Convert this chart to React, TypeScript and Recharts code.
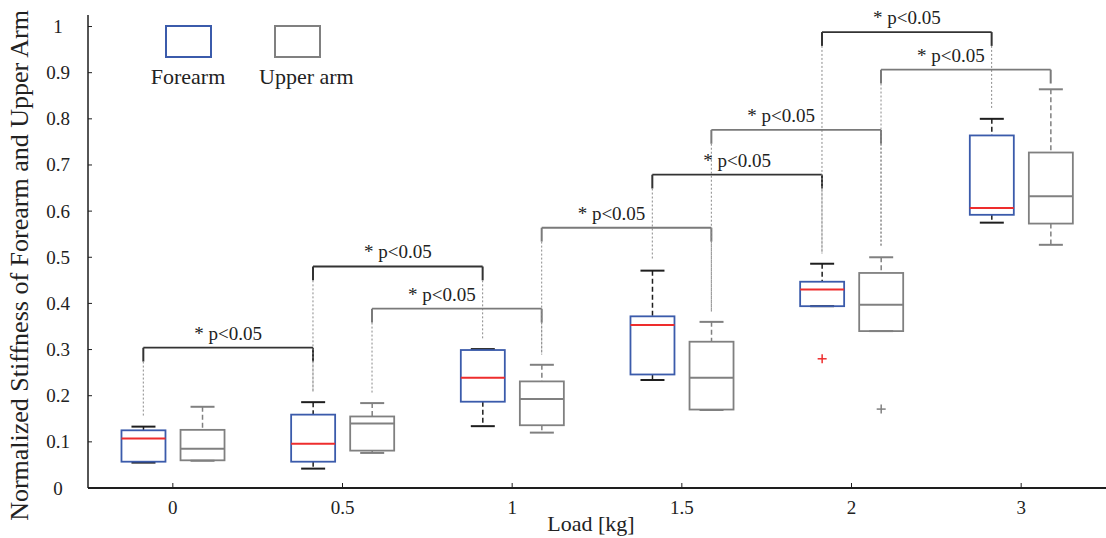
import { ComposedChart, Bar, XAxis, YAxis, ReferenceLine, ReferenceDot, Legend } from 'recharts';

// load levels (x tick labels)
const loads = ['0', '0.5', '1', '1.5', '2', '3'];

// forearm box plot stats per load
const forearmMin = [0.055, 0.042, 0.134, 0.234, 0.394, 0.575];
const forearmQ1 = [0.057, 0.057, 0.187, 0.246, 0.394, 0.592];
const forearmMedian = [0.107, 0.096, 0.239, 0.353, 0.43, 0.607];
const forearmQ3 = [0.125, 0.159, 0.299, 0.372, 0.447, 0.764];
const forearmMax = [0.133, 0.186, 0.301, 0.471, 0.486, 0.8];
const forearmOutliers = [[], [], [], [], [0.28], []];

// upper arm box plot stats per load
const upperMin = [0.059, 0.076, 0.12, 0.169, 0.34, 0.527];
const upperQ1 = [0.06, 0.081, 0.136, 0.17, 0.34, 0.573];
const upperMedian = [0.085, 0.14, 0.193, 0.239, 0.397, 0.632];
const upperQ3 = [0.126, 0.155, 0.231, 0.317, 0.466, 0.727];
const upperMax = [0.176, 0.184, 0.267, 0.36, 0.5, 0.864];
const upperOutliers = [[], [], [], [], [0.171], []];

// significance brackets between load i and i+1 (bracket height, null = none)
const forearmSig = [0.304, 0.48, null, 0.679, 0.988];
const upperSig = [null, 0.3885, 0.564, 0.776, 0.9065];
const sigText = '* p<0.05';

const yTicks = [0, 0.1, 0.2, 0.3, 0.4, 0.5, 0.6, 0.7, 0.8, 0.9, 1];

const data = loads.map((load, i) => ({
  pos: i,
  load,
  f: { min: forearmMin[i], q1: forearmQ1[i], med: forearmMedian[i], q3: forearmQ3[i], max: forearmMax[i], out: forearmOutliers[i] },
  u: { min: upperMin[i], q1: upperQ1[i], med: upperMedian[i], q3: upperQ3[i], max: upperMax[i], out: upperOutliers[i] },
}));

const FONT = '"Liberation Serif", "Times New Roman", serif';
const BLUE = '#3b5bab';
const GRAY = '#808080';
const RED = '#ee2d2d';
const DARK = '#1e1e1e';

const xDomain = [-0.5, 5.5];
const shift = 0.174;

const makeBox = (key: 'f' | 'u', boxColor: string, medColor: string, whiskColor: string) => (props: any) => {
  const { x, y, width, height, payload } = props;
  const s = payload[key];
  const py = (v: number) => y + (height * (s.max - v)) / (s.max - s.min);
  const cx = x + width / 2;
  const cap = 12;
  return (
    <g>
      <line x1={cx} x2={cx} y1={py(s.max)} y2={py(s.q3)} stroke={whiskColor} strokeWidth={1.5} strokeDasharray="5 3" />
      <line x1={cx} x2={cx} y1={py(s.q1)} y2={py(s.min)} stroke={whiskColor} strokeWidth={1.5} strokeDasharray="5 3" />
      <line x1={cx - cap} x2={cx + cap} y1={py(s.max)} y2={py(s.max)} stroke={whiskColor} strokeWidth={2} />
      <line x1={cx - cap} x2={cx + cap} y1={py(s.min)} y2={py(s.min)} stroke={whiskColor} strokeWidth={2} />
      <rect x={x} y={py(s.q3)} width={width} height={py(s.q1) - py(s.q3)} fill="none" stroke={boxColor} strokeWidth={1.8} />
      <line x1={x} x2={x + width} y1={py(s.med)} y2={py(s.med)} stroke={medColor} strokeWidth={2} />
      {s.out.map((o: number, j: number) => (
        <g key={j} stroke={key === 'f' ? RED : GRAY} strokeWidth={1.5}>
          <line x1={cx - 4.5} x2={cx + 4.5} y1={py(o)} y2={py(o)} />
          <line x1={cx} x2={cx} y1={py(o) - 4.5} y2={py(o) + 4.5} />
        </g>
      ))}
    </g>
  );
};

const XTick = (props: any) => {
  const { x, y, payload } = props;
  return (
    <g>
      <line x1={x} x2={x} y1={y} y2={y - 5} stroke={DARK} strokeWidth={1} />
      <text x={x} y={y + 26} textAnchor="middle" fontFamily={FONT} fontSize={19} fill="#222">
        {loads[payload.value]}
      </text>
    </g>
  );
};

const YTick = (props: any) => {
  const { x, y, payload } = props;
  return (
    <g>
      <line x1={x} x2={x + 4} y1={y} y2={y} stroke={DARK} strokeWidth={1} />
      <text x={x - 30} y={y} textAnchor="middle" dominantBaseline="central" fontFamily={FONT} fontSize={19} fill="#222">
        {String(payload.value)}
      </text>
    </g>
  );
};

const renderLegend = (props: any) => {
  const { payload } = props;
  return (
    <div style={{ position: 'relative', width: 240, height: 75, fontFamily: FONT }}>
      {payload.map((p: any, i: number) => (
        <div key={p.value} style={{ position: 'absolute', left: i * 109, top: 0, width: 76, textAlign: 'center' }}>
          <div style={{ margin: '3px auto 0', width: 43, height: 29, border: `2px solid ${p.color}` }} />
          <div style={{ fontSize: 22, color: '#222', marginTop: 6, whiteSpace: 'nowrap' }}>{p.value}</div>
        </div>
      ))}
    </div>
  );
};

const brackets = (axis: 'f' | 'u', sig: (number | null)[], maxes: number[], color: string, labelDx: number) => {
  const out: any[] = [];
  const leg = 0.03;
  sig.forEach((h, i) => {
    if (h === null) return;
    out.push(
      <ReferenceLine key={`${axis}h${i}`} xAxisId={axis} segment={[{ x: i, y: h }, { x: i + 1, y: h }]} stroke={color} strokeWidth={1.8} />
    );
    [i, i + 1].forEach((p) => {
      out.push(
        <ReferenceLine key={`${axis}l${i}-${p}`} xAxisId={axis} segment={[{ x: p, y: h }, { x: p, y: h - leg }]} stroke={color} strokeWidth={2} />
      );
      const bottom = maxes[p] + 0.022;
      if (h - leg > bottom) {
        out.push(
          <ReferenceLine
            key={`${axis}d${i}-${p}`}
            xAxisId={axis}
            segment={[{ x: p, y: h - leg }, { x: p, y: bottom }]}
            stroke="#8a8a8a"
            strokeWidth={1}
            strokeDasharray="2 2"
          />
        );
      }
    });
    out.push(
      <ReferenceDot
        key={`${axis}t${i}`}
        xAxisId={axis}
        x={i + 0.5}
        y={h}
        r={0}
        shape={(p: any) => (
          <text x={p.cx + labelDx} y={p.cy - 8} textAnchor="middle" fontFamily={FONT} fontSize={19} fill="#222">
            {sigText}
          </text>
        )}
      />
    );
  });
  return out;
};

export default function App() {
  return (
    <div style={{ position: 'absolute', left: 0, top: 0, width: 1106, height: 538, background: '#fff', fontFamily: FONT }}>
      <ComposedChart width={1106} height={538} data={data} margin={{ top: 15, right: 0, bottom: 0, left: 0 }}>
        <XAxis
          xAxisId="load"
          dataKey="pos"
          type="number"
          domain={xDomain}
          allowDataOverflow
          ticks={[0, 1, 2, 3, 4, 5]}
          height={50}
          tickLine={false}
          tickSize={0}
          tickMargin={0}
          tick={<XTick />}
          axisLine={{ stroke: DARK, strokeWidth: 2 }}
          label={{
            value: 'Load [kg]',
            content: (p: any) => (
              <text
                x={p.viewBox.x + p.viewBox.width / 2 - 6}
                y={p.viewBox.y + 35}
                textAnchor="middle"
                dominantBaseline="central"
                fontFamily={FONT}
                fontSize={22}
                fill="#222"
              >
                Load [kg]
              </text>
            ),
          }}
        />
        <XAxis xAxisId="f" orientation="top" dataKey="pos" type="number" hide domain={[xDomain[0] + shift, xDomain[1] + shift]} allowDataOverflow ticks={[0, 1, 2, 3, 4, 5]} />
        <XAxis xAxisId="u" orientation="top" dataKey="pos" type="number" hide domain={[xDomain[0] - shift, xDomain[1] - shift]} allowDataOverflow ticks={[0, 1, 2, 3, 4, 5]} />
        <YAxis
          type="number"
          domain={[0, 1.025]}
          allowDataOverflow
          ticks={yTicks}
          width={88}
          tickLine={false}
          tickSize={0}
          tickMargin={0}
          tick={<YTick />}
          axisLine={{ stroke: DARK, strokeWidth: 1.5 }}
          label={{
            value: 'Normalized Stiffness of Forearm and Upper Arm',
            content: (p: any) => {
              const cy = p.viewBox.y + p.viewBox.height / 2 + 14;
              return (
                <text
                  x={19}
                  y={cy}
                  transform={`rotate(-90, 19, ${cy})`}
                  textAnchor="middle"
                  dominantBaseline="central"
                  fontFamily={FONT}
                  fontSize={26}
                  fill="#222"
                >
                  Normalized Stiffness of Forearm and Upper Arm
                </text>
              );
            },
          }}
        />
        <Legend
          layout="horizontal"
          verticalAlign="middle"
          align="center"
          content={renderLegend}
          wrapperStyle={{ left: 150, top: 22, width: 240, height: 75 }}
        />
        <Bar
          xAxisId="f"
          name="Forearm"
          dataKey={(d: any) => [d.f.min, d.f.max]}
          fill={BLUE}
          barSize={44}
          shape={makeBox('f', BLUE, RED, DARK)}
          isAnimationActive={false}
        />
        <Bar
          xAxisId="u"
          name="Upper arm"
          dataKey={(d: any) => [d.u.min, d.u.max]}
          fill={GRAY}
          barSize={44}
          shape={makeBox('u', GRAY, GRAY, GRAY)}
          isAnimationActive={false}
        />
        {brackets('f', forearmSig, forearmMax, '#333333', 0)}
        {brackets('u', upperSig, upperMax, '#7a7a7a', -15)}
      </ComposedChart>
    </div>
  );
}
